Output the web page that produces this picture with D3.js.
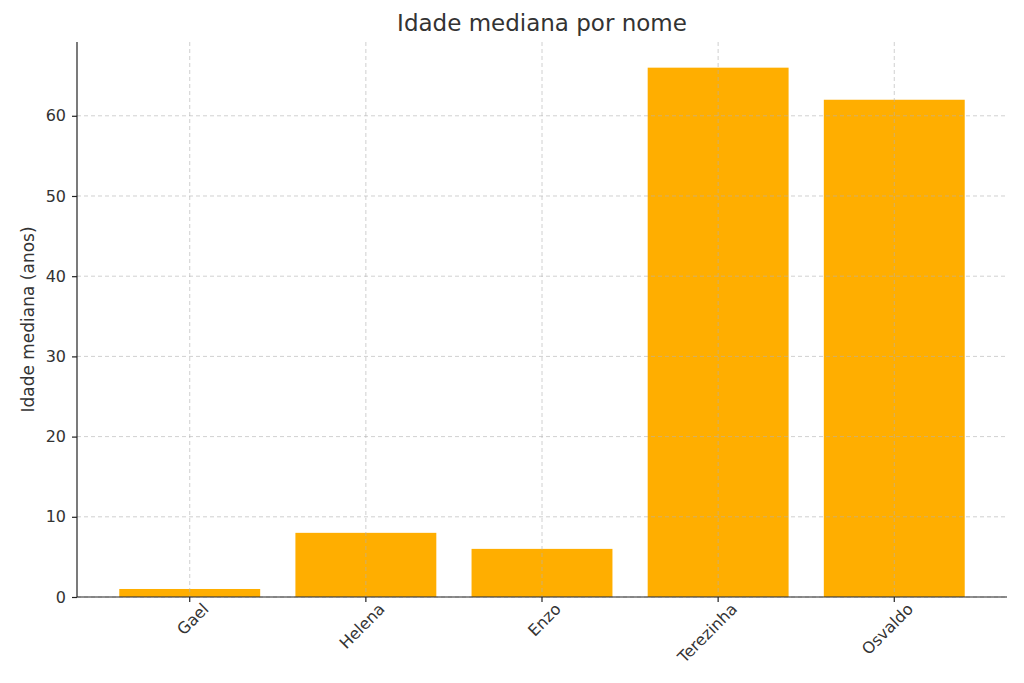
<!DOCTYPE html>
<html>
<head>
<meta charset="utf-8">
<script src="https://cdn.jsdelivr.net/npm/d3@7"></script>
<style>
  body { margin: 0; background: #fff; }
  text { font-family: "DejaVu Sans", sans-serif; fill: #333; }
</style>
</head>
<body>
<div id="chart"></div>
<script>
// data
var names = ["Gael", "Helena", "Enzo", "Terezinha", "Osvaldo"];
var ages = [1, 8, 6, 66, 62];
var yTicks = [0, 10, 20, 30, 40, 50, 60];

var W = 1024, H = 683;
var m = {left: 77, right: 17, top: 42, bottom: 86};

var svg = d3.select("#chart").append("svg")
  .attr("width", W).attr("height", H);

var x = d3.scaleBand().domain(names)
  .range([m.left, W - m.right])
  .paddingInner(0.2).paddingOuter(0.24);

var y = d3.scaleLinear().domain([0, 69.2])
  .range([H - m.bottom, m.top]);

// bars
svg.selectAll("rect.bar")
  .data(ages)
  .enter()
  .append("rect")
  .attr("class", "bar")
  .attr("x", function(d, i) { return x(names[i]); })
  .attr("y", function(d) { return y(d); })
  .attr("width", x.bandwidth())
  .attr("height", function(d) { return y(0) - y(d); })
  .attr("fill", "#ffae00");

// grid (drawn over bars, faint)
svg.selectAll("line.hgrid")
  .data(yTicks)
  .enter()
  .append("line")
  .attr("x1", m.left).attr("x2", W - m.right)
  .attr("y1", function(d) { return y(d); })
  .attr("y2", function(d) { return y(d); })
  .attr("stroke", "#b0b0b0").attr("stroke-opacity", 0.6)
  .attr("stroke-dasharray", "4,3");

svg.selectAll("line.vgrid")
  .data(names)
  .enter()
  .append("line")
  .attr("x1", function(d) { return x(d) + x.bandwidth() / 2; })
  .attr("x2", function(d) { return x(d) + x.bandwidth() / 2; })
  .attr("y1", m.top).attr("y2", H - m.bottom)
  .attr("stroke", "#b0b0b0").attr("stroke-opacity", 0.6)
  .attr("stroke-dasharray", "4,3");

// axes
var yAxis = svg.append("g")
  .attr("transform", "translate(" + m.left + ",0)")
  .call(d3.axisLeft(y).tickValues(yTicks).tickSize(5).tickPadding(6));

var xAxis = svg.append("g")
  .attr("transform", "translate(0," + (H - m.bottom) + ")")
  .call(d3.axisBottom(x).tickSize(5).tickPadding(4));

yAxis.select(".domain").attr("d", "M0," + m.top + "V" + (H - m.bottom));
xAxis.select(".domain").attr("d", "M" + m.left + ",0H" + (W - m.right));

svg.selectAll(".domain, .tick line").attr("stroke", "#222").attr("stroke-width", 1.2);
yAxis.selectAll(".tick text").style("font-size", "16px").style("fill", "#333");
xAxis.selectAll(".tick text")
  .style("font-size", "16px").style("fill", "#333")
  .attr("text-anchor", "end")
  .attr("dx", "0.3em").attr("dy", "0.9em")
  .attr("transform", "rotate(-45)");

// title and label
svg.append("text")
  .attr("x", (m.left + W - m.right) / 2).attr("y", 31)
  .attr("text-anchor", "middle")
  .style("font-size", "23px")
  .text("Idade mediana por nome");

svg.append("text")
  .attr("transform", "translate(34," + ((m.top + H - m.bottom) / 2) + ") rotate(-90)")
  .attr("text-anchor", "middle")
  .style("font-size", "17px")
  .text("Idade mediana (anos)");
</script>
</body>
</html>
